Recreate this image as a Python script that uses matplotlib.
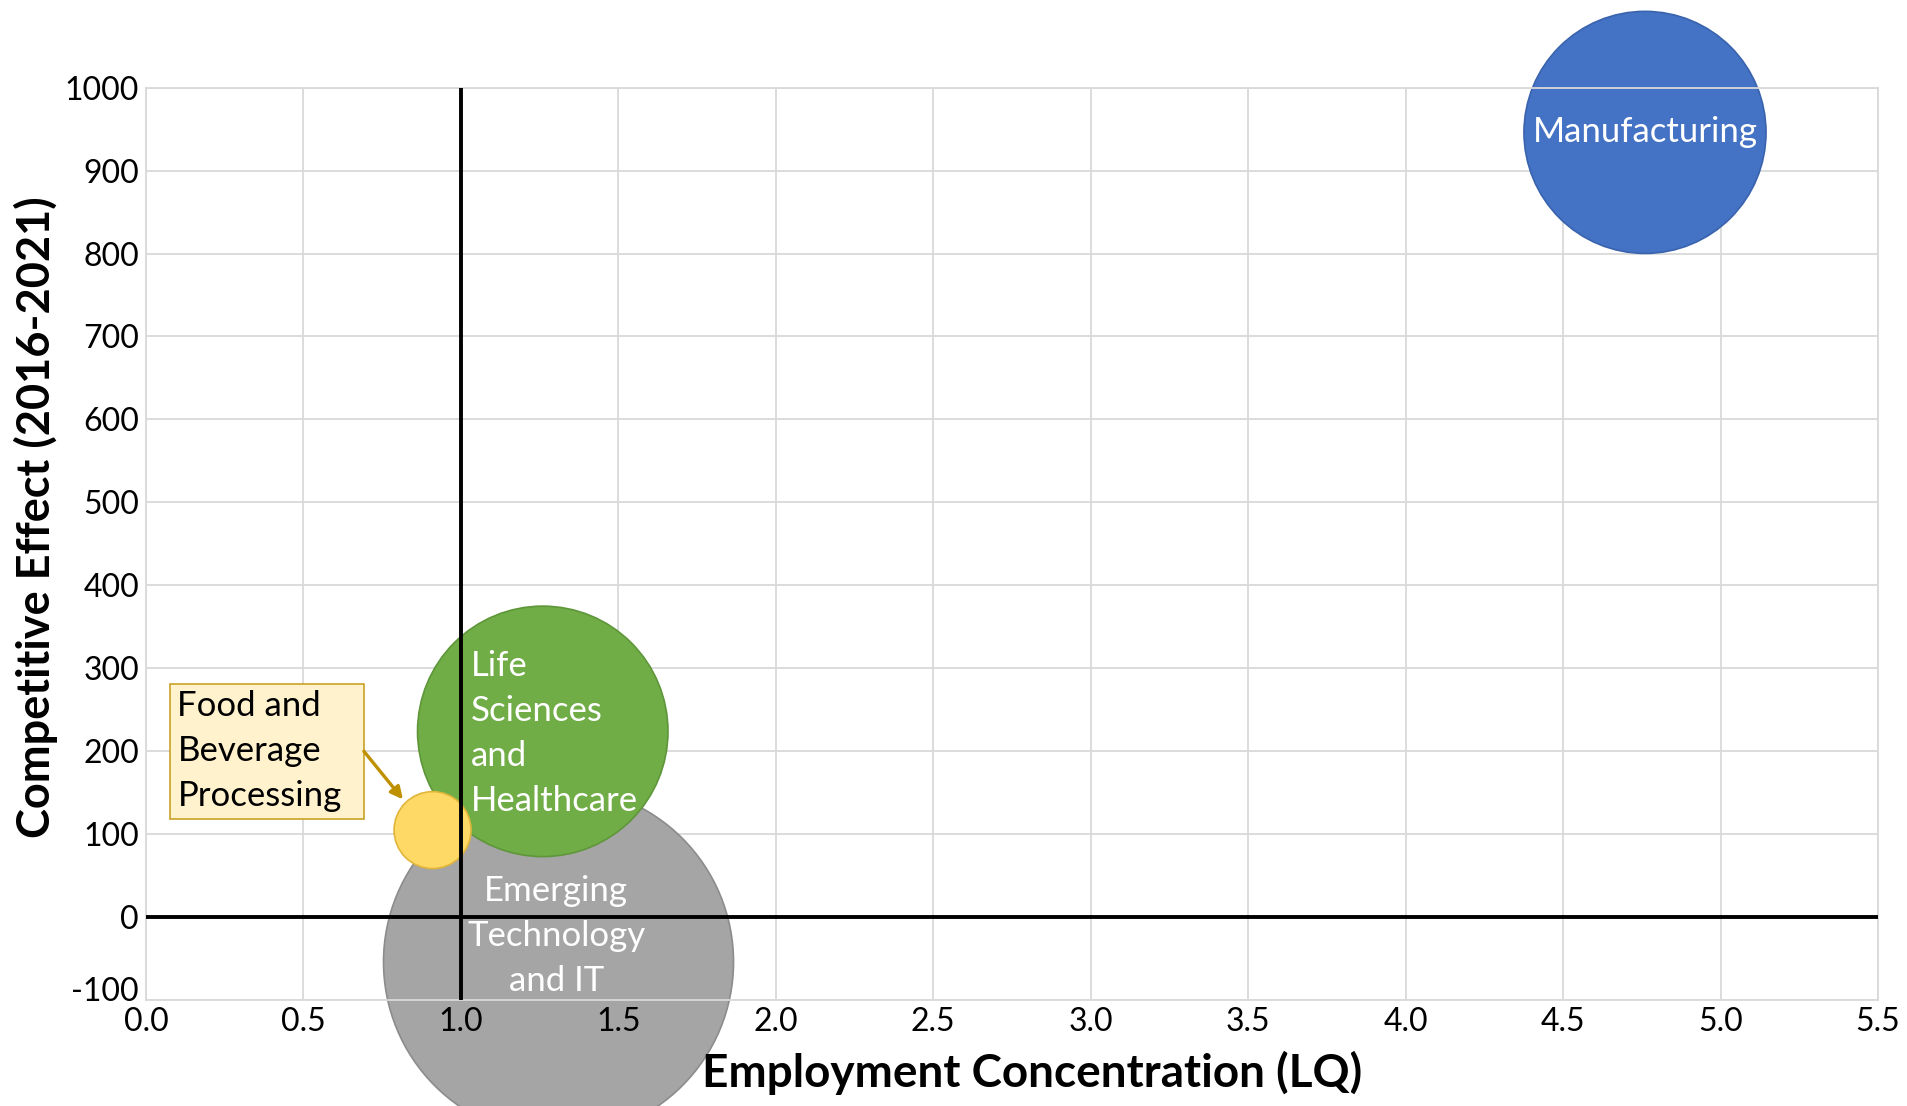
"""Bubble chart: competitive effect vs employment concentration by industry cluster."""

import matplotlib

matplotlib.use("Agg")
import matplotlib.pyplot as plt
import matplotlib.transforms as mtransforms
import numpy as np
from matplotlib.patches import Rectangle

# data
clusters = ["Emerging\nTechnology\nand IT", "Life\nSciences\nand\nHealthcare",
            "Food and\nBeverage\nProcessing", "Manufacturing"]
lq = [1.31, 1.26, 0.91, 4.76]
competitive_effect = [-54, 224, 105, 946]
employment = [20700, 10600, 1000, 9900]
x_ticks = [0.0, 0.5, 1.0, 1.5, 2.0, 2.5, 3.0, 3.5, 4.0, 4.5, 5.0, 5.5]
y_ticks = [-100, 0, 100, 200, 300, 400, 500, 600, 700, 800, 900, 1000]

fill_colors = ["#A5A5A5", "#70AD47", "#FFD966", "#4472C4"]
edge_colors = ["#8C8C8C", "#5E9639", "#E0B53A", "#3A63AE"]

plt.rcParams["font.family"] = ["Lato", "DejaVu Sans"]
plt.rcParams["axes.unicode_minus"] = False

DPI = 100
GRID = "#D9D9D9"
fig = plt.figure(figsize=(19.08, 11.06), dpi=DPI)
ax = fig.add_axes([0.0765, 0.0957, 0.9078, 0.8251])
ax.set_xlim(0, 5.5)
ax.set_ylim(-100, 1000)
ax.set_axisbelow(False)  # tick labels above the bubbles

# gridlines drawn by hand so they stay under the bubbles
for xv in x_ticks:
    ax.axvline(xv, color=GRID, lw=1.3, zorder=0.5)
for yv in y_ticks:
    ax.axhline(yv, color=GRID, lw=1.3, zorder=0.5)

# bubble area proportional to employment; largest radius ~175 px
max_r_px = 175.0
radii_px = max_r_px * np.sqrt(np.array(employment) / max(employment))
sizes = (2 * radii_px * 72 / DPI) ** 2
ax.scatter(lq, competitive_effect, s=sizes, c=fill_colors, edgecolors=edge_colors,
           linewidths=1.2, zorder=2, clip_on=False)

# axis crossing lines
ax.axhline(0, color="black", lw=2.8, zorder=3)
ax.axvline(1.0, color="black", lw=2.8, zorder=3)

ax.set_xticks(x_ticks)
ax.set_xticklabels([f"{v:.1f}" for v in x_ticks])
ax.set_yticks(y_ticks)
for side in ["top", "right", "left", "bottom"]:
    ax.spines[side].set_color(GRID)
    ax.spines[side].set_linewidth(1.3)
ax.tick_params(length=0, labelsize=23, colors="black", pad=5)
# lift the lowest y label a little so it clears the x labels
low_label = ax.get_yticklabels()[0]
low_label.set_transform(low_label.get_transform()
                        + mtransforms.ScaledTranslation(0, 8 / 72, fig.dpi_scale_trans))

ax.set_xlabel("Employment Concentration (LQ)", fontsize=33, fontweight="bold")
ax.set_ylabel("Competitive Effect (2016-2021)", fontsize=32.5, fontweight="bold")
ax.xaxis.set_label_coords(0.5116, -0.056)
ax.yaxis.set_label_coords(-0.051, 0.5287)

# bubble labels
ax.text(lq[3], competitive_effect[3], clusters[3], color="white", fontsize=25,
        ha="center", va="center", zorder=4)
ax.text(1.032, 222, clusters[1], color="white", fontsize=25, ha="left", va="center",
        linespacing=1.5, zorder=4)
ax.text(1.303, -23, clusters[0], color="white", fontsize=25, ha="center", va="center",
        linespacing=1.5, zorder=4, clip_on=False)

# callout for the small bubble
ax.add_patch(Rectangle((0.077, 118), 0.615, 163, fc="#FFF2CC", ec="#C9A227",
                       lw=1.2, zorder=4))
ax.text(0.10, 200, clusters[2], fontsize=25, ha="left", va="center",
        linespacing=1.5, zorder=5)
ax.annotate("", xy=(0.816, 142), xytext=(0.692, 200),
            arrowprops=dict(arrowstyle="-|>", color="#BF9000", lw=2.4,
                            shrinkA=0, shrinkB=0, mutation_scale=18), zorder=5)

fig.savefig("out.png", dpi=DPI)
